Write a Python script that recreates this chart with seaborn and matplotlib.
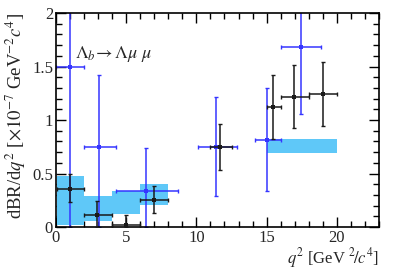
import numpy as np
import pandas as pd
import matplotlib
matplotlib.use("Agg")
import matplotlib.pyplot as plt
import seaborn as sns
from matplotlib.ticker import MultipleLocator

# ==========================
# Datos
# ==========================

# LHCb (negro)
lhcb_lo = [0.1, 2.0, 4.0, 6.0, 11.0, 15.0, 16.0, 18.0]
lhcb_hi = [2.0, 4.0, 6.0, 8.0, 12.5, 16.0, 18.0, 20.0]
lhcb_x = [1.0, 2.95, 4.97, 6.97, 11.7, 15.47, 16.98, 19.0]
lhcb_y = [0.36, 0.11, 0.02, 0.25, 0.75, 1.12, 1.22, 1.24]
lhcb_up = [0.50, 0.24, 0.11, 0.38, 0.96, 1.42, 1.51, 1.54]
lhcb_dn = [0.23, 0.0, 0.0, 0.13, 0.53, 0.82, 0.93, 0.94]

# CDF (azul)
cdf_lo = [0.0, 2.0, 4.3, 10.09, 14.18, 16.0]
cdf_hi = [2.0, 4.3, 8.68, 12.86, 16.0, 18.9]
cdf_x = [1.0, 3.08, 6.45, 11.43, 15.06, 17.44]
cdf_y = [1.50, 0.75, 0.34, 0.75, 0.81, 1.68]
cdf_up = [2.2, 1.42, 0.74, 1.22, 1.30, 2.2]
cdf_dn = [0.0, 0.0, 0.0, 0.29, 0.34, 1.06]

# Predicción teórica (bandas)
th_lo = [0.1, 2.0, 4.0, 6.0, 15.0]
th_hi = [2.0, 4.0, 6.0, 8.0, 20.0]
th_min = [0.02, 0.06, 0.12, 0.21, 0.69]
th_max = [0.48, 0.29, 0.34, 0.40, 0.82]

# ==========================
# Figura
# ==========================

sns.set_style("ticks")
plt.rcParams["font.family"] = ["Liberation Serif", "DejaVu Serif"]
plt.rcParams["mathtext.fontset"] = "stix"

fig = plt.figure(figsize=(3.99, 2.71), dpi=100)
ax = fig.add_axes([0.140, 0.162, 0.810, 0.790])

banda = "#5fc8f8"
azul = "#3535ff"
negro = "#1a1a1a"

th = pd.DataFrame({"lo": th_lo, "hi": th_hi, "min": th_min, "max": th_max})
ax.bar(th["lo"], th["max"] - th["min"], width=th["hi"] - th["lo"],
       bottom=th["min"], align="edge", color=banda, edgecolor="none", zorder=1)

def dibujar(x, y, lo, hi, up, dn, color, z):
    x = np.array(x); y = np.array(y)
    xerr = [x - np.array(lo), np.array(hi) - x]
    yerr = [y - np.array(dn), np.array(up) - y]
    ax.errorbar(x, y, xerr=xerr, yerr=yerr, fmt="none", ecolor=color,
                elinewidth=1.1, capsize=1.2, capthick=1.0, zorder=z)
    sns.scatterplot(x=x, y=y, ax=ax, color=color, marker="s", s=10,
                    edgecolor=color, linewidth=0, zorder=z + 0.5)

dibujar(cdf_x, cdf_y, cdf_lo, cdf_hi, cdf_up, cdf_dn, azul, 2)
dibujar(lhcb_x, lhcb_y, lhcb_lo, lhcb_hi, lhcb_up, lhcb_dn, negro, 3)

ax.set_xlim(0, 23)
ax.set_ylim(0, 2)
ax.xaxis.set_minor_locator(MultipleLocator(1))
ax.yaxis.set_minor_locator(MultipleLocator(0.1))
ax.set_xticks([0, 5, 10, 15, 20])
ax.set_xticklabels(["0", "5", "10", "15", "20"])
ax.set_yticks([0, 0.5, 1, 1.5, 2])
ax.set_yticklabels(["0", "0.5", "1", "1.5", "2"])
ax.tick_params(which="both", direction="in", top=True, right=True,
               labelsize=12, pad=2, width=1.0, color="black")
ax.tick_params(which="major", length=7)
ax.tick_params(which="minor", length=4)
for s in ax.spines.values():
    s.set_linewidth(1.2)
    s.set_color("black")

ax.set_xlabel(r"$q^2$ [GeV $^2\!/c^4$]", fontsize=12, loc="right", labelpad=0)
ax.set_ylabel(r"dBR/d$q^2$ [$\times10^{-7}$ GeV$^{-2}c^4$]", fontsize=13.5,
              loc="top", labelpad=3)
ax.text(0.06, 0.79, r"$\Lambda_b\!\rightarrow\Lambda\mu\ \mu$",
        transform=ax.transAxes, fontsize=13)

fig.savefig("out.png", dpi=100)
